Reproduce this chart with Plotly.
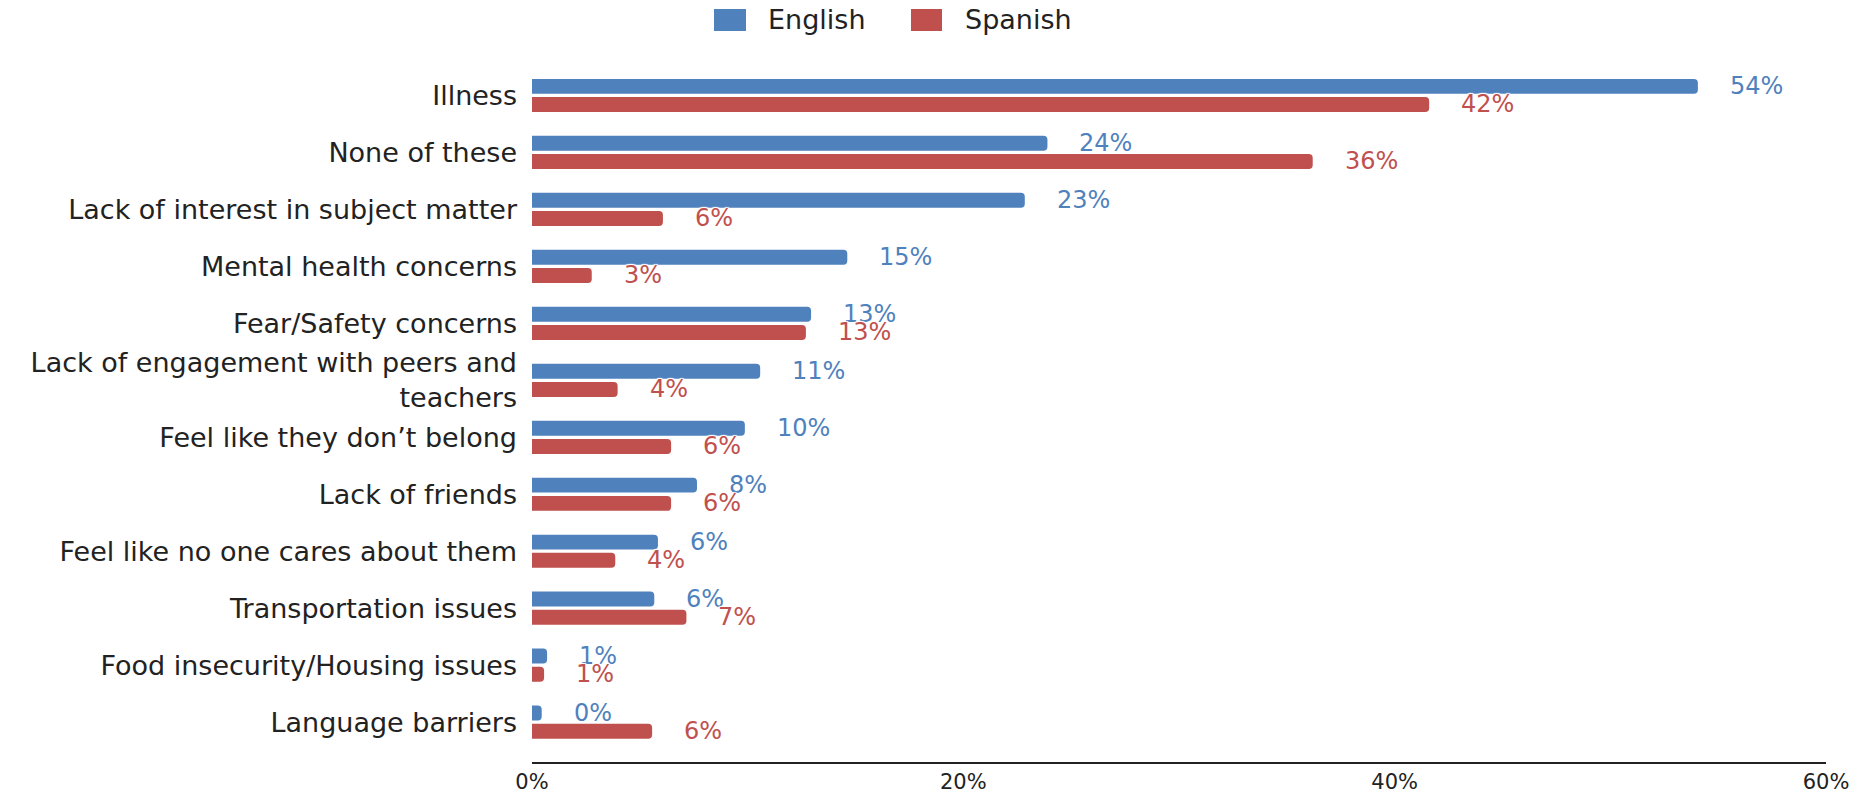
import plotly.graph_objects as go

categories = [
    "Illness",
    "None of these",
    "Lack of interest in subject matter",
    "Mental health concerns",
    "Fear/Safety concerns",
    "Lack of engagement with peers and<br>teachers",
    "Feel like they don’t belong",
    "Lack of friends",
    "Feel like no one cares about them",
    "Transportation issues",
    "Food insecurity/Housing issues",
    "Language barriers",
]
english = [0.5406, 0.239, 0.2285, 0.1462, 0.1294, 0.1058, 0.0987, 0.0765, 0.0584, 0.0567, 0.0070, 0.0045]
spanish = [0.416, 0.362, 0.0607, 0.0277, 0.127, 0.0397, 0.0645, 0.0645, 0.0386, 0.0716, 0.0056, 0.0557]
series_names = ["English", "Spanish"]
x_ticks = [0, 0.2, 0.4, 0.6]
x_tick_text = ["0%", "20%", "40%", "60%"]

BLUE = "#4F81BD"
RED = "#C0504D"
FONT = "DejaVu Sans"
W, H = 1859, 793
ML, MR, MT, MB = 532, 33, 67, 31

fig = go.Figure()
for name, vals, col in [(series_names[0], english, BLUE), (series_names[1], spanish, RED)]:
    fig.add_trace(go.Bar(
        name=name, y=categories, x=vals, orientation="h",
        marker=dict(color=col, cornerradius=4, line=dict(width=0)),
        showlegend=False, hoverinfo="x+y",
    ))

halo = "1px 1px 1px white, -1px -1px 1px white, 1px -1px 1px white, -1px 1px 1px white"
annotations = []
for vals, col, ysh in [(english, BLUE, 9.5), (spanish, RED, -9)]:
    for c, v in zip(categories, vals):
        annotations.append(dict(
            x=v, y=c, xref="x", yref="y", text=f"{v*100:.0f}%",
            showarrow=False, xanchor="left", yanchor="middle",
            xshift=30, yshift=ysh,
            font=dict(family=FONT, size=24, color=col, shadow=halo),
        ))

pw = W - ML - MR
ph = H - MT - MB

def px(xp):
    return (xp - ML) / pw

def py(yp):
    return (H - MB - yp) / ph

shapes = []
for (x0, x1, col) in [(714, 746, BLUE), (911, 942, RED)]:
    shapes.append(dict(type="rect", xref="paper", yref="paper",
                       x0=px(x0), x1=px(x1), y0=py(31), y1=py(9),
                       fillcolor=col, line=dict(width=0)))
for xt, name in [(766, series_names[0]), (963, series_names[1])]:
    annotations.append(dict(
        x=px(xt), y=py(20), xref="paper", yref="paper", text=name,
        showarrow=False, xanchor="left", yanchor="middle",
        font=dict(family=FONT, size=27, color="#222222"),
    ))

fig.update_layout(
    width=W, height=H,
    margin=dict(l=ML, r=MR, t=MT, b=MB, pad=0, autoexpand=False),
    barmode="group", bargap=0.36, bargroupgap=0.18,
    plot_bgcolor="white", paper_bgcolor="white",
    showlegend=False,
    annotations=annotations, shapes=shapes,
    font=dict(family=FONT, color="#222222"),
    xaxis=dict(range=[0, 0.6], tickvals=x_ticks, ticktext=x_tick_text,
               showgrid=False, zeroline=False, showline=True, automargin=False,
               linecolor="#222222", linewidth=2, ticks="",
               tickfont=dict(family=FONT, size=21, color="#222222")),
    yaxis=dict(categoryorder="array", categoryarray=categories, automargin=False,
               range=[11.70, -0.5], showgrid=False, zeroline=False,
               showline=False, ticks="", ticklabelstandoff=14,
               tickfont=dict(family=FONT, size=27, color="#222222")),
)

fig.write_html(
    "out.html",
    config={"displayModeBar": False},
    post_script="document.body.style.margin='0';document.body.style.overflow='hidden';",
)
